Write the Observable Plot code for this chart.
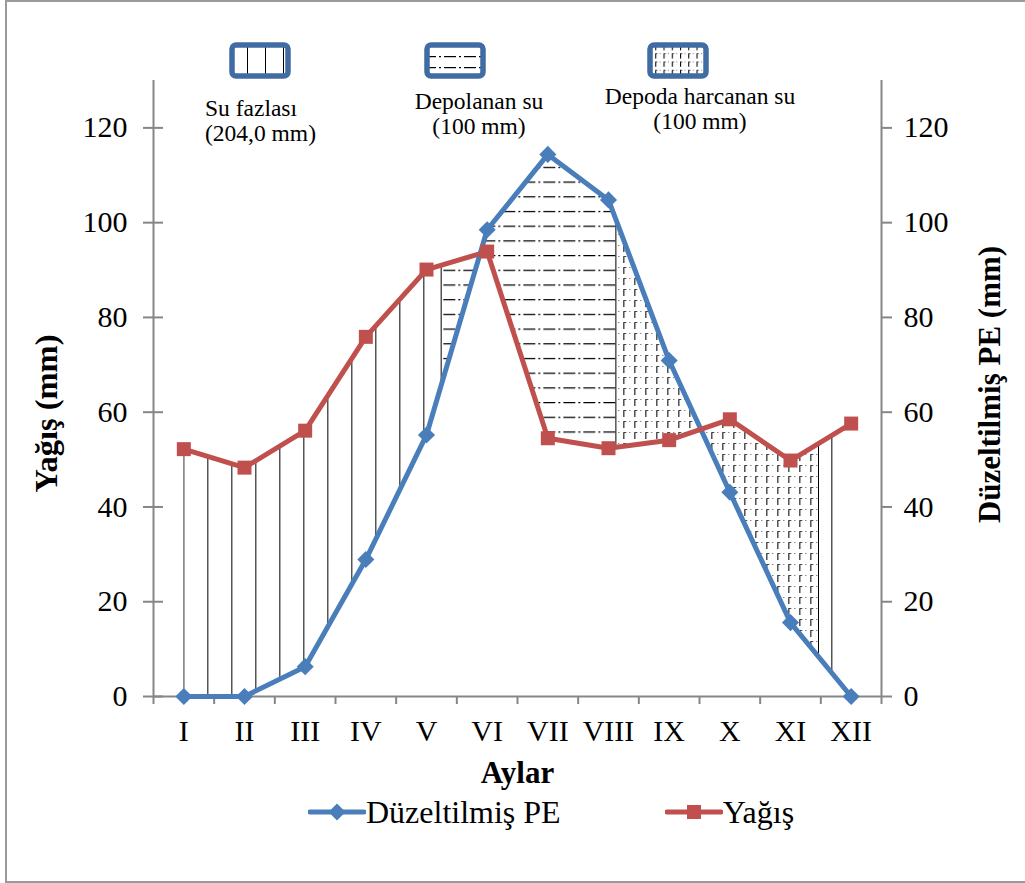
<!DOCTYPE html>
<html>
<head>
<meta charset="utf-8">
<script src="https://cdn.jsdelivr.net/npm/d3@7"></script>
<script src="https://cdn.jsdelivr.net/npm/@observablehq/plot@0.6"></script>
<style>
  body { margin: 0; background: #fff; font-family: 'Liberation Serif', serif; }
  #page { position: relative; width: 1025px; height: 883px; overflow: hidden; color: #000; background: #fff;
          font-family: 'Liberation Serif', serif; }
  #frame { position: absolute; left: 5px; top: 0; width: 1040px; height: 879px; border: 2px solid #9a9a9a; }
  #chart { position: absolute; left: 0; top: 0; }
  .zone-icon { position: absolute; top: 42px; }
  .zone-icon svg { display: block; }
  .zone-text { position: absolute; font-family: 'Liberation Serif', serif; font-size: 23.5px; line-height: 25px;
               white-space: nowrap; }
  .zone-text.centered { text-align: center; transform: translateX(-50%); }
  #series { position: absolute; left: 308px; top: 797px; display: flex; align-items: center;
            font-family: 'Liberation Serif', serif; font-size: 32px; line-height: 30px; white-space: nowrap; }
  #series .item { display: flex; align-items: center; }
  #series svg { display: block; }
</style>
</head>
<body>
<div id="page">
  <div id="frame"></div>
  <div id="chart"></div>
  <div id="zones"></div>
  <div id="series"></div>
</div>
<script>
// Monthly water balance: corrected potential evapotranspiration vs. precipitation
const months = ["I", "II", "III", "IV", "V", "VI", "VII", "VIII", "IX", "X", "XI", "XII"];
const pe = [0, 0, 6.3, 28.9, 55.2, 98.5, 114.4, 104.8, 70.9, 43.1, 15.6, 0];
const precip = [52.2, 48.3, 56.1, 75.9, 90.1, 93.9, 54.5, 52.4, 54.1, 58.5, 49.8, 57.6];
const seriesNames = ["Düzeltilmiş PE", "Yağış"];

const yTicks = [0, 20, 40, 60, 80, 100, 120];
const yMax = 130;

// month positions where the water-balance phase changes
const zoneBreaks = [5.25, 8.13, 11.47];
const zoneNames = ["Su fazlası", "Depolanan su", "Depoda harcanan su"];
const zoneAmounts = ["(204,0 mm)", "(100 mm)", "(100 mm)"];
const zoneKeys = ["surplus", "recharge", "use"];

const blue = "#4a7ebb";
const red = "#c0504d";
const axisGray = "#868686";
const iconBlue = "#416ca3";
const serif = "'Liberation Serif', serif";

const rows = months.map((m, i) => ({pos: i + 1, month: m, pe: pe[i], precip: precip[i]}));
const xDomain = [0.5, months.length + 0.5];
const monthBounds = d3.range(months.length + 1).map(i => xDomain[0] + i);
const noText = () => "";

const chart = Plot.plot({
  width: 1025,
  height: 800,
  marginLeft: 153,
  marginRight: 144,
  marginTop: 80,
  marginBottom: 104,
  style: {fontFamily: serif, fontSize: "30px", background: "transparent", color: "#000", overflow: "visible"},
  x: {type: "linear", domain: xDomain, axis: null},
  y: {domain: [0, yMax], axis: null},
  marks: [
    // hatched band between the two curves
    Plot.areaY(rows, {x: "pos", y1: "pe", y2: "precip", fill: "url(#wb-hatch)", stroke: "none"}),
    // axis lines
    Plot.ruleX(xDomain, {stroke: axisGray, strokeWidth: 2}),
    Plot.ruleY([0], {stroke: axisGray, strokeWidth: 2}),
    // month ticks at band edges, labels at band centres
    Plot.axisX(monthBounds, {anchor: "bottom", tickSize: 8, tickFormat: noText, color: axisGray, strokeWidth: 2, label: null}),
    Plot.axisX(rows.map(d => d.pos), {anchor: "bottom", tickSize: 0, tickPadding: 23, tickFormat: p => months[p - 1], color: "#000", fontSize: 30, label: null}),
    // left axis: ticks cross the axis line
    Plot.axisY(yTicks, {anchor: "left", tickSize: 20, dx: 10, tickFormat: noText, color: axisGray, strokeWidth: 2, label: null}),
    Plot.axisY(yTicks, {anchor: "left", tickSize: 0, tickPadding: 26, color: "#000", fontSize: 30, label: null}),
    // right axis: outside ticks
    Plot.axisY(yTicks, {anchor: "right", tickSize: 10, tickFormat: noText, color: axisGray, strokeWidth: 2, label: null}),
    Plot.axisY(yTicks, {anchor: "right", tickSize: 0, tickPadding: 22, color: "#000", fontSize: 30, label: null}),
    // axis titles
    Plot.text(["Yağış (mm)"], {frameAnchor: "left", textAnchor: "middle", dx: -107, dy: 25, rotate: -90, fontWeight: "bold", fontSize: 32.5}),
    Plot.text([seriesNames[0] + " (mm)"], {frameAnchor: "right", textAnchor: "middle", dx: 109, dy: -4, rotate: -90, fontWeight: "bold", fontSize: 31}),
    Plot.text(["Aylar"], {frameAnchor: "bottom", dy: 86, fontWeight: "bold", fontSize: 31}),
    // series
    Plot.line(rows, {x: "pos", y: "pe", stroke: blue, strokeWidth: 5}),
    Plot.dot(rows, {x: "pos", y: "pe", symbol: "diamond2", r: 7.7, fill: blue, stroke: "none"}),
    Plot.line(rows, {x: "pos", y: "precip", stroke: red, strokeWidth: 5}),
    Plot.dot(rows, {x: "pos", y: "precip", symbol: "square", r: 7.9, fill: red, stroke: "none"})
  ]
});
document.getElementById("chart").appendChild(chart);

// hatch patterns: vertical lines (surplus), dash-dot rows (recharge), dashed grid (use)
function addHatches(defs, prefix, ox, oy, scale) {
  const s = scale || 1;
  const surplus = defs.append("pattern").attr("id", prefix + "surplus")
    .attr("patternUnits", "userSpaceOnUse").attr("x", ox).attr("y", oy)
    .attr("width", 24 * s).attr("height", 10);
  surplus.append("line").attr("x1", 0.5).attr("x2", 0.5).attr("y1", 0).attr("y2", 10)
    .attr("stroke", "#000").attr("stroke-width", 1);

  const recharge = defs.append("pattern").attr("id", prefix + "recharge")
    .attr("patternUnits", "userSpaceOnUse").attr("x", ox).attr("y", oy)
    .attr("width", 20).attr("height", 14.7 * s);
  recharge.append("line").attr("x1", 0).attr("x2", 20).attr("y1", 0.5).attr("y2", 0.5)
    .attr("stroke", "#000").attr("stroke-width", 1.3).attr("stroke-dasharray", "12 3 2 3");

  const use = defs.append("pattern").attr("id", prefix + "use")
    .attr("patternUnits", "userSpaceOnUse").attr("x", ox).attr("y", oy)
    .attr("width", 11 * s).attr("height", 11 * s);
  use.append("line").attr("x1", 0.5).attr("x2", 0.5).attr("y1", 0).attr("y2", 11 * s)
    .attr("stroke", "#000").attr("stroke-width", 1.1).attr("stroke-dasharray", `${7 * s} ${4 * s}`);
  use.append("line").attr("x1", 0).attr("x2", 11 * s).attr("y1", 0.5).attr("y2", 0.5)
    .attr("stroke", "#222").attr("stroke-width", 0.8).attr("stroke-dasharray", `${3 * s} ${3 * s} ${1 * s} ${4 * s}`);
}

const x = chart.scale("x");
const y = chart.scale("y");
const svg = d3.select(chart);
const defs = svg.insert("defs", ":first-child");
addHatches(defs, "wb-", x.apply(1), y.apply(0));

// one pattern that switches hatch style at each phase boundary
const W = +chart.getAttribute("width"), H = +chart.getAttribute("height");
const hatch = defs.append("pattern").attr("id", "wb-hatch")
  .attr("patternUnits", "userSpaceOnUse").attr("x", 0).attr("y", 0)
  .attr("width", W).attr("height", H);
const edges = [xDomain[0], ...zoneBreaks, xDomain[1]];
const edgeKeys = ["surplus", "recharge", "use", "surplus"];
edgeKeys.forEach((k, i) => {
  const x0 = x.apply(edges[i]), x1 = x.apply(edges[i + 1]);
  hatch.append("rect").attr("x", x0).attr("y", 0).attr("width", x1 - x0).attr("height", H)
    .attr("fill", `url(#wb-${k})`);
});
zoneBreaks.forEach(b => {
  const xb = x.apply(b);
  hatch.append("line").attr("x1", xb).attr("x2", xb).attr("y1", 0).attr("y2", H)
    .attr("stroke", "#000").attr("stroke-width", 1);
});

// phase legend along the top
const iconLeft = [229, 424, 647];
const textLeft = [205, 479, 700];
const textTop = [96, 89, 84];
const zones = d3.select("#zones");
zoneKeys.forEach((k, i) => {
  const icon = zones.append("div").attr("class", "zone-icon").style("left", iconLeft[i] + "px")
    .append("svg").attr("width", 62).attr("height", 37);
  addHatches(icon.append("defs"), "icon" + i + "-", 0, 3, 0.75);
  icon.append("rect").attr("x", 3).attr("y", 3).attr("width", 56).attr("height", 31).attr("rx", 4)
    .attr("fill", "#fff");
  icon.append("rect").attr("x", 3).attr("y", 3).attr("width", 56).attr("height", 31).attr("rx", 4)
    .attr("fill", `url(#icon${i}-${k})`).attr("stroke", iconBlue).attr("stroke-width", 5.5);
  const t = zones.append("div").attr("class", i ? "zone-text centered" : "zone-text")
    .style("left", textLeft[i] + "px").style("top", textTop[i] + "px");
  t.append("div").text(zoneNames[i]);
  t.append("div").text(zoneAmounts[i]);
});

// series legend under the chart
const series = d3.select("#series");
[[blue, "diamond"], [red, "square"]].forEach(([c, shape], i) => {
  const item = series.append("div").attr("class", "item")
    .style("margin-left", i ? "104px" : "0px");
  const sw = item.append("svg").attr("width", 58).attr("height", 30);
  sw.append("line").attr("x1", 2).attr("x2", 56).attr("y1", 15).attr("y2", 15)
    .attr("stroke", c).attr("stroke-width", 5).attr("stroke-linecap", "round");
  if (shape === "diamond") {
    sw.append("path").attr("d", "M29,6.5L37.5,15L29,23.5L20.5,15Z").attr("fill", c);
  } else {
    sw.append("rect").attr("x", 22).attr("y", 8).attr("width", 14).attr("height", 14).attr("fill", c);
  }
  item.append("span").text(seriesNames[i]);
});
</script>
</body>
</html>
